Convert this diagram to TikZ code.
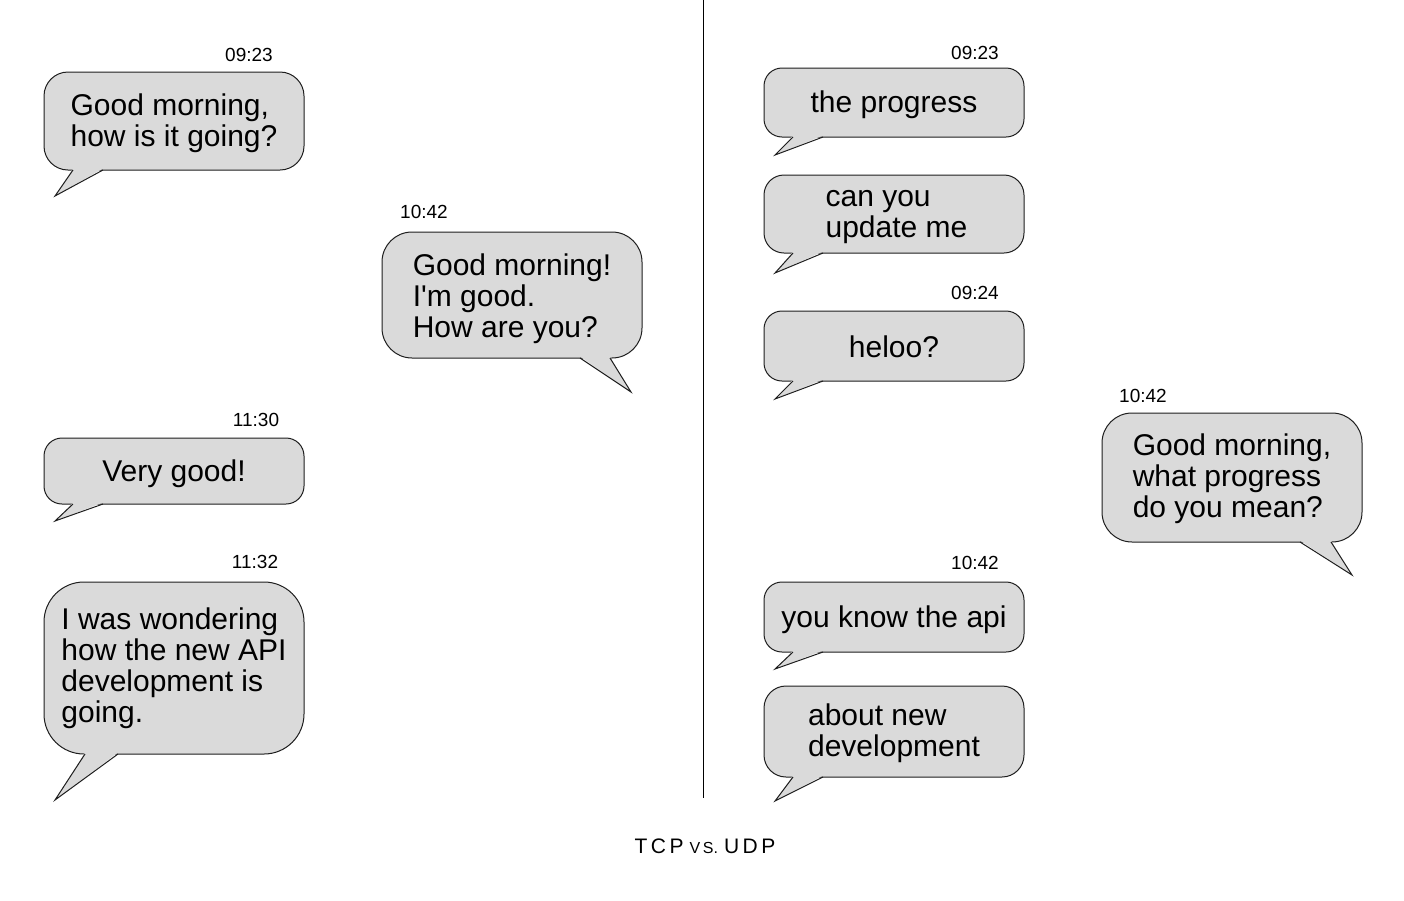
\documentclass[tikz,border=0pt]{standalone}
\usepackage{fontspec}
\setmainfont{Liberation Sans}
\definecolor{bubblefill}{RGB}{218,218,218}
\definecolor{edge}{RGB}{30,30,30}
\newcommand\bubtail[5]{%
  \fill[bubblefill] ([shift={(#3,-1.5)}]#1.#2) -- ([shift={#5}]#1.#2) -- ([shift={(#4,-1.5)}]#1.#2) -- cycle;
  \draw[tailline] ([shift={(#3,0)}]#1.#2) -- ([shift={#5}]#1.#2) -- ([shift={(#4,0)}]#1.#2);}
\newcommand\btext[2][4]{\raisebox{-#1pt}[\height][\depth]{\begin{tabular}{@{}l@{}}#2\end{tabular}}}
\tikzset{
  bubble/.style={draw=edge, line width=1pt, fill=bubblefill, rounded corners=#1,
    minimum width=260pt, inner sep=0pt, outer sep=0pt,
    font=\fontsize{30}{31}\selectfont},
  tailline/.style={draw=edge, line width=1pt, line join=miter},
  stamp/.style={font=\fontsize{19}{19}\selectfont, inner sep=0pt},
}
\begin{document}
\begin{tikzpicture}[x=1pt,y=-1pt]
\useasboundingbox (0,0) rectangle (1404,900);
% divider
\coordinate (dtop) at (703,0);
\coordinate (dbot) at (703,798);
\draw[line width=1pt] (dtop) -- (dbot);

% left conversation
\node[bubble=24, minimum height=98pt] (b1) at (174,121) {\btext[3.5]{Good morning,\\how is it going?}};
\node[stamp] (t1) at (249,55) {09:23};
\bubtail{b1}{south west}{29}{59}{(11,26)}

\node[bubble=30, minimum height=126pt] (b2) at (512,295) {\btext[5.5]{Good morning!\\I\textquotesingle m good.\\How are you?}};
\node[stamp] (t2) at (424,212) {10:42};
\bubtail{b2}{south east}{-62}{-32}{(-11,34)}

\node[bubble=18, minimum height=66pt] (b3) at (174,471) {\btext[4.5]{Very good!}};
\node[stamp] (t3) at (256,420) {11:30};
\bubtail{b3}{south west}{29}{59}{(11,17)}

\node[bubble=40, minimum height=172pt] (b4) at (174,668) {\btext[1.5]{I was wondering\\how the new API\\development is\\going.}};
\node[stamp] (t4) at (255,562) {11:32};
\bubtail{b4}{south west}{41}{74}{(11,46)}

% right conversation
\node[bubble=18, minimum height=69pt] (b5) at (894,102.5) {\btext[3.5]{the progress}};
\node[stamp] (t5) at (975,53) {09:23};
\bubtail{b5}{south west}{29}{59}{(11,18)}

\node[bubble=20, minimum height=78pt] (b6) at (894,214) {\hspace{5pt}\btext[1.5]{can you\\update me}};
\bubtail{b6}{south west}{29}{59}{(11,20)}

\node[bubble=18, minimum height=70pt] (b7) at (894,346) {\btext[5.5]{heloo?}};
\node[stamp] (t7) at (975,293) {09:24};
\bubtail{b7}{south west}{29}{59}{(11,18)}

\node[bubble=30, minimum height=129pt] (b8) at (1232,477.5) {\btext[2.5]{Good morning,\\what progress\\do you mean?}};
\node[stamp] (t8) at (1143,396) {10:42};
\bubtail{b8}{south east}{-62}{-31}{(-10,33)}

\node[bubble=18, minimum height=70pt] (b9) at (894,617) {\btext[4.5]{you know the api}};
\node[stamp] (t9) at (975,563) {10:42};
\bubtail{b9}{south west}{29}{59}{(11,17)}

\node[bubble=22, minimum height=91pt] (b10) at (894,731.5) {\btext[3.5]{about new\\development}};
\bubtail{b10}{south west}{29}{59}{(11,24)}

% caption
\node[inner sep=0pt] (title) at (705,846) {\fontsize{21}{21}\selectfont T\,C\,P\hspace{6pt}{\fontsize{16}{16}\selectfont V\,S.}\hspace{6pt}U\,D\,P};
\end{tikzpicture}
\end{document}
